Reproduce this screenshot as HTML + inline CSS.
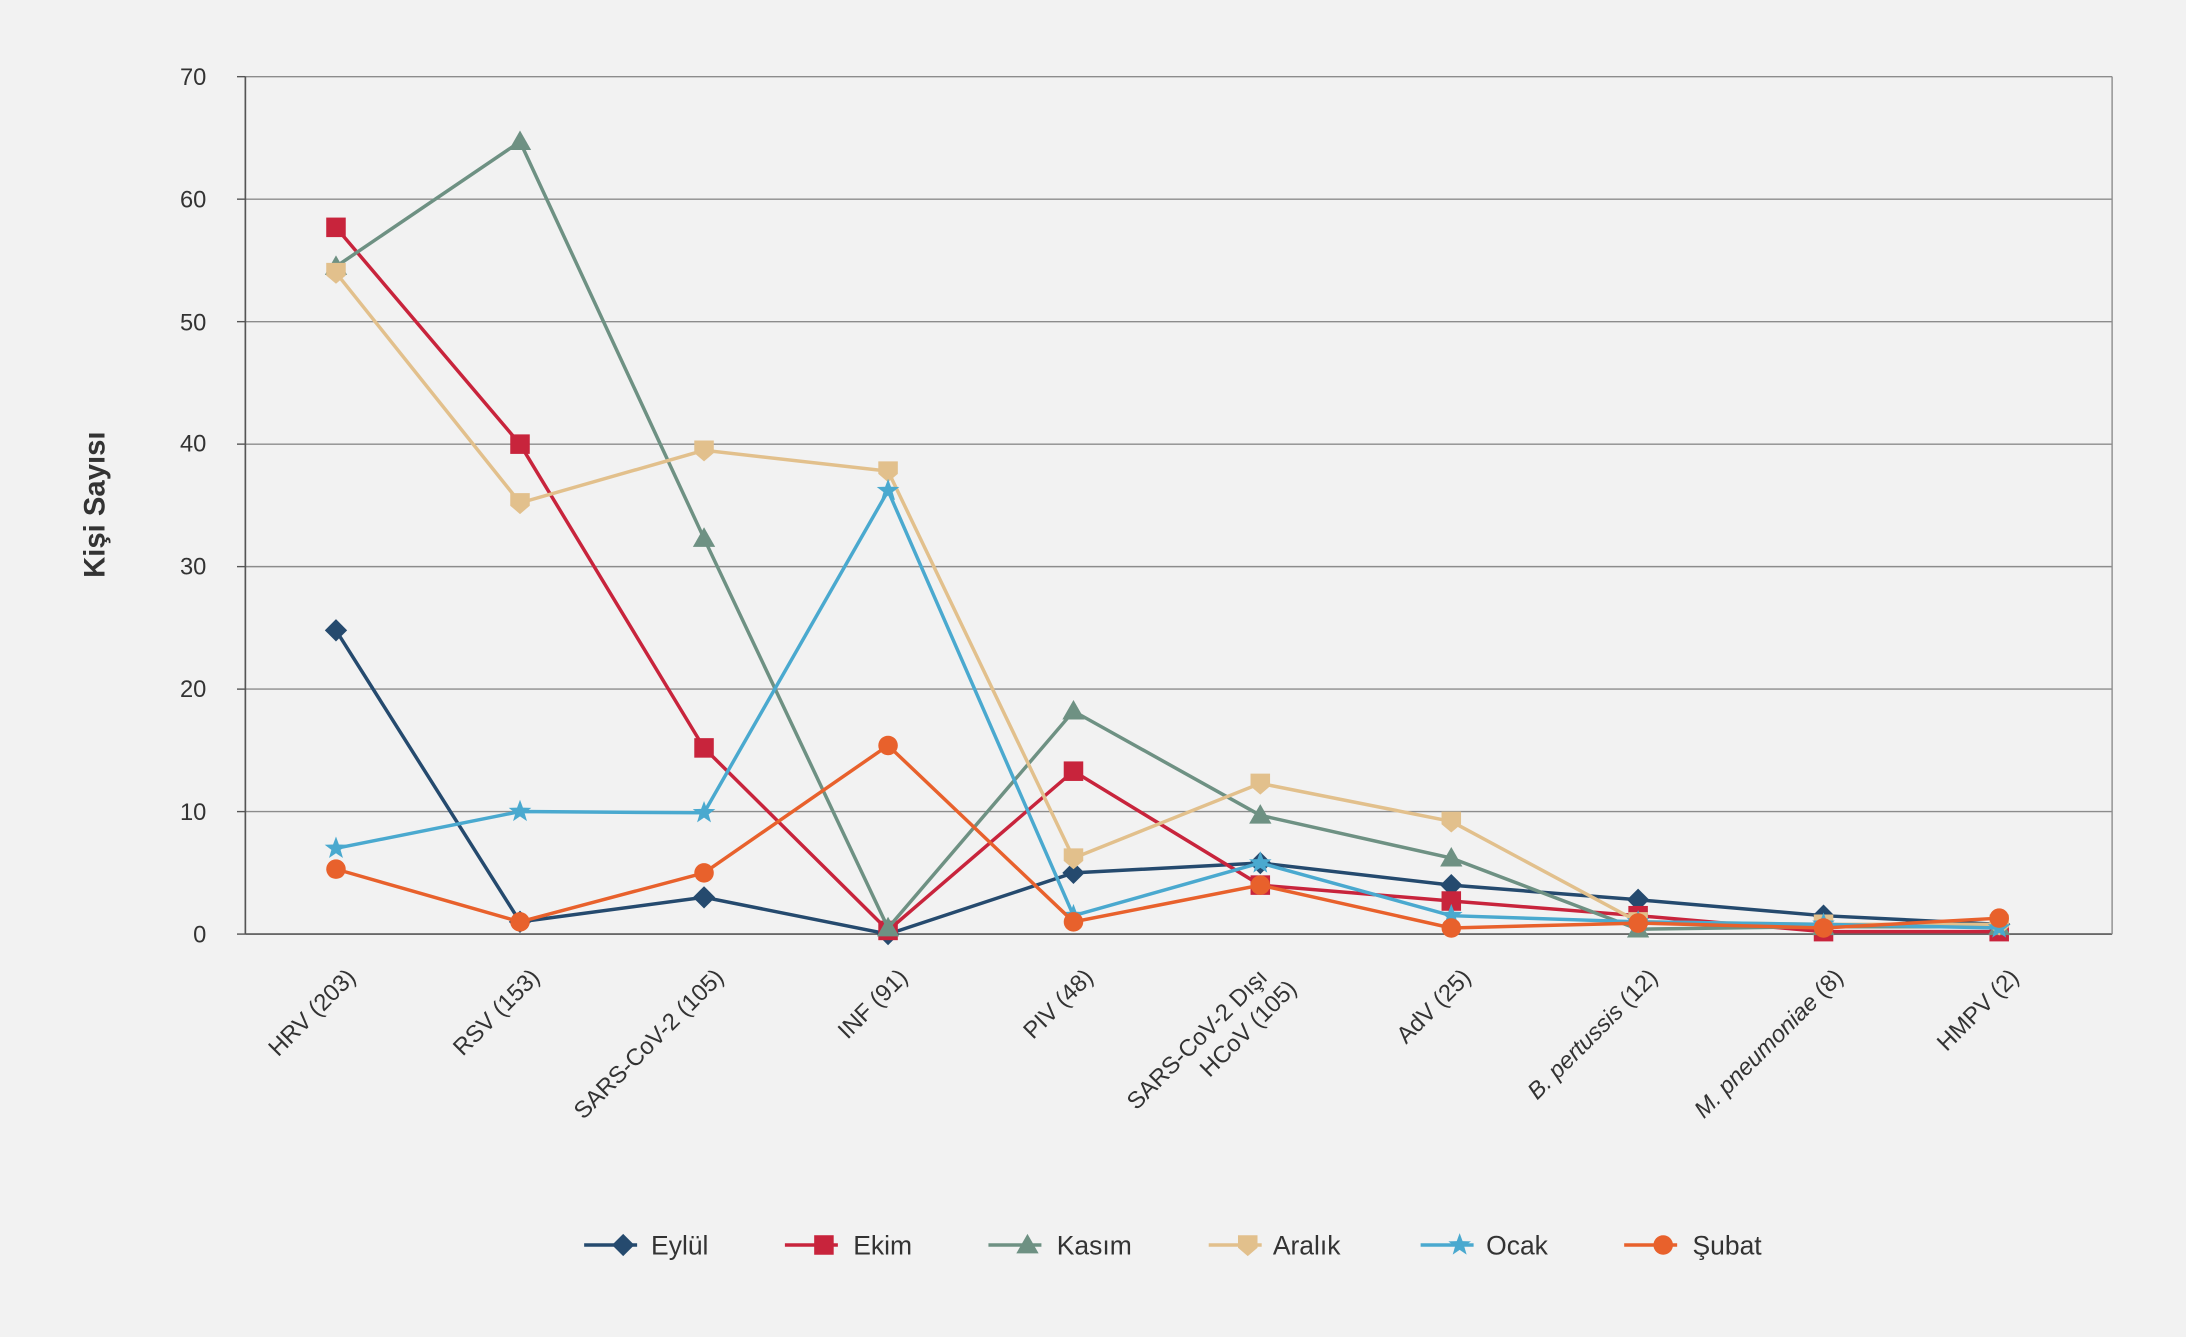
<!DOCTYPE html>
<html><head><meta charset="utf-8"><style>
html,body{margin:0;padding:0;background:#f2f2f2;}
svg{display:block;}
text{font-family:"Liberation Sans",sans-serif;fill:#333;}
</style></head><body>
<svg id="c" width="2186" height="1337" viewBox="0 0 1568 959" preserveAspectRatio="none" xmlns="http://www.w3.org/2000/svg">
<rect width="1568" height="959" fill="#f2f2f2"/>
<g id="grid"></g>
<g font-size="17" text-anchor="end">
<text x="148" y="676">0</text><text x="148" y="588">10</text><text x="148" y="500">20</text><text x="148" y="412">30</text><text x="148" y="324">40</text><text x="148" y="237">50</text><text x="148" y="149">60</text><text x="148" y="61">70</text>
</g>
<text transform="translate(75,362) rotate(-90)" font-size="21" font-weight="bold" text-anchor="middle">Kişi Sayısı</text>
<g font-size="17" text-anchor="end">
<text transform="translate(256,702) rotate(-45)">HRV (203)</text>
<text transform="translate(388,702) rotate(-45)">RSV (153)</text>
<text transform="translate(520,702) rotate(-45)">SARS-CoV-2 (105)</text>
<text transform="translate(652,702) rotate(-45)">INF (91)</text>
<text transform="translate(785,702) rotate(-45)">PIV (48)</text>
<text transform="translate(910,702) rotate(-45)">SARS-CoV-2 Dışı</text>
<text transform="translate(931,710) rotate(-45)">HCoV (105)</text>
<text transform="translate(1056,702) rotate(-45)">AdV (25)</text>
<text transform="translate(1190,702) rotate(-45)"><tspan font-style="italic">B. pertussis</tspan> (12)</text>
<text transform="translate(1323,702) rotate(-45)"><tspan font-style="italic">M. pneumoniae</tspan> (8)</text>
<text transform="translate(1449,702) rotate(-45)">HMPV (2)</text>
</g>
<g id="series"></g>
<g id="legend" font-size="19">
<text x="467" y="900">Eylül</text>
<text x="612" y="900">Ekim</text>
<text x="758" y="900">Kasım</text>
<text x="913" y="900">Aralık</text>
<text x="1066" y="900">Ocak</text>
<text x="1214" y="900">Şubat</text>
</g>
</svg>
<script>
var NS="http://www.w3.org/2000/svg";
function el(p,t,a){var e=document.createElementNS(NS,t);for(var k in a)e.setAttribute(k,a[k]);p.appendChild(e);return e;}
var g=document.getElementById('grid');
var x0=176,x1=1515,y0=670,y70=55;
function Y(v){return y0-(y0-y70)*v/70;}
var XS=[241,373,505,637,770,904,1041,1175,1308,1434];
function X(i){return XS[i];}
for(var v=10;v<=70;v+=10)el(g,'line',{x1:x0,x2:x1,y1:Y(v),y2:Y(v),stroke:'#8c8c8c','stroke-width':1});
el(g,'line',{x1:x0,x2:x1,y1:y0,y2:y0,stroke:'#555','stroke-width':1.2});
el(g,'line',{x1:x0,x2:x0,y1:y70,y2:y0,stroke:'#555','stroke-width':1.2});
el(g,'line',{x1:x1,x2:x1,y1:y70,y2:y0,stroke:'#8c8c8c','stroke-width':1});
for(var v=0;v<=70;v+=10)el(g,'line',{x1:x0-6,x2:x0,y1:Y(v),y2:Y(v),stroke:'#555'});
var S=[
["#254a6e","d",[24.8,1,3,0,5,5.8,4,2.8,1.5,0.8],447],
["#c8243c","s",[57.7,40,15.2,0.3,13.3,4,2.7,1.5,0.2,0.2],591],
["#6e9183","t",[54.5,64.7,32.3,0.5,18.2,9.7,6.2,0.4,0.6,0.6],737],
["#e2c08c","p",[54,35.2,39.5,37.8,6.2,12.3,9.2,1,0.8,0.8],895],
["#4aa9cf","*",[7,10,9.9,36.2,1.5,5.8,1.5,1,0.8,0.5],1047],
["#e8612c","o",[5.3,1,5,15.4,1,4,0.5,0.9,0.5,1.3],1193]];
var sg=document.getElementById('series');
function mk(p,type,x,y,c){
 if(type=='d')el(p,'polygon',{points:(x)+','+(y-8)+' '+(x+8)+','+y+' '+x+','+(y+8)+' '+(x-8)+','+y,fill:c});
 else if(type=='s')el(p,'rect',{x:x-7,y:y-7,width:14,height:14,fill:c});
 else if(type=='t')el(p,'polygon',{points:x+','+(y-8)+' '+(x+8)+','+(y+6)+' '+(x-8)+','+(y+6),fill:c});
 else if(type=='p')el(p,'polygon',{points:(x-7)+','+(y-7)+' '+(x+7)+','+(y-7)+' '+(x+7)+','+(y+2)+' '+x+','+(y+8)+' '+(x-7)+','+(y+2),fill:c});
 else if(type=='o')el(p,'circle',{cx:x,cy:y,r:7,fill:c});
 else{var pts=[];for(var k=0;k<10;k++){var r=k%2?3.5:8.5,a=-Math.PI/2+k*Math.PI/5;pts.push((x+r*Math.cos(a)).toFixed(1)+','+(y+r*Math.sin(a)).toFixed(1));}el(p,'polygon',{points:pts.join(' '),fill:c});}
}
S.forEach(function(s){
 var pts=s[2].map(function(v,i){return X(i).toFixed(1)+','+Y(v).toFixed(1);}).join(' ');
 el(sg,'polyline',{points:pts,fill:'none',stroke:s[0],'stroke-width':2.5});
 s[2].forEach(function(v,i){mk(sg,s[1],X(i),Y(v),s[0]);});
 var lg=document.getElementById('legend');
 el(lg,'line',{x1:s[3]-28,x2:s[3]+10,y1:893,y2:893,stroke:s[0],'stroke-width':2.5});
 mk(lg,s[1],s[3],893,s[0]);
});
</script>
</body></html>
